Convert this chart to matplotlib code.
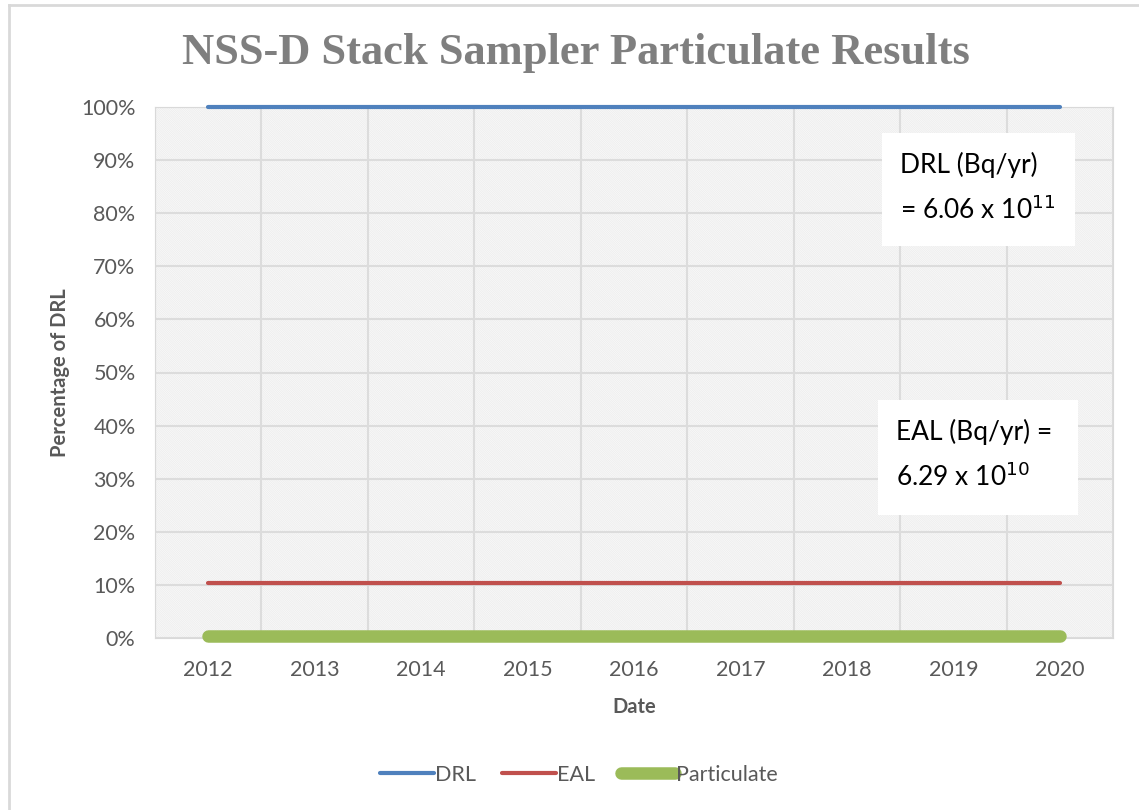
import matplotlib.pyplot as plt
import matplotlib.patches as mpatches
import matplotlib.lines as mlines
import numpy as np

years = ['2012', '2013', '2014', '2015', '2016', '2017', '2018', '2019', '2020']
drl = [100, 100, 100, 100, 100, 100, 100, 100, 100]
eal = [10.38, 10.38, 10.38, 10.38, 10.38, 10.38, 10.38, 10.38, 10.38]
particulate = [0.3, 0.3, 0.3, 0.3, 0.3, 0.3, 0.3, 0.3, 0.3]
yticks = [0, 10, 20, 30, 40, 50, 60, 70, 80, 90, 100]

plt.rcParams['font.family'] = ['Lato', 'DejaVu Sans']
plt.rcParams['hatch.linewidth'] = 0.6
grey = '#595959'

fig = plt.figure(figsize=(11.39, 8.10), dpi=100)
ax = fig.add_axes([155/1139, 1-638/810, (1113-155)/1139, (638-107)/810])

# chart border (only top and left edges visible)
fig.add_artist(mlines.Line2D([9/1139, 9/1139], [0, 1-5/810], color='#d9d9d9', lw=2,
                             transform=fig.transFigure))
fig.add_artist(mlines.Line2D([9/1139, 1], [1-5/810, 1-5/810], color='#d9d9d9', lw=2,
                             transform=fig.transFigure))

x = np.arange(len(years))
ax.set_xlim(-0.5, 8.5)
ax.set_ylim(0, 100)

# hatched plot area
ax.add_patch(mpatches.Rectangle((0, 0), 1, 1, transform=ax.transAxes, facecolor='white',
                                edgecolor='#ececec', hatch='\\' * 18, lw=0, zorder=0))

ax.set_yticks(yticks)
ax.set_yticklabels([f'{v}%' for v in yticks])
ax.set_xticks(x)
ax.set_xticklabels(years)
ax.set_xticks(np.arange(-0.5, 8.51, 0.5), minor=True)
ax.grid(axis='y', color='#dcdcdc', lw=1.5)
ax.grid(axis='x', which='minor', color='#dcdcdc', lw=1.5)
ax.tick_params(length=0, which='both', labelsize=15.5, colors=grey)
ax.tick_params(axis='y', pad=14)
ax.tick_params(axis='x', pad=16)
for s in ax.spines.values():
    s.set_color('#d9d9d9')

ax.plot(x, drl, color='#4F81BD', lw=3, solid_capstyle='round', label='DRL', zorder=3,
        clip_on=False)
ax.plot(x, eal, color='#C0504D', lw=3, solid_capstyle='round', label='EAL', zorder=3,
        clip_on=False)
ax.plot(x, particulate, color='#9BBB59', lw=9, solid_capstyle='round', label='Particulate',
        zorder=4, clip_on=False)

ax.set_ylabel('Percentage of DRL', fontsize=14.5, fontweight='bold', color=grey, labelpad=8)
ax.set_xlabel('Date', fontsize=14.5, fontweight='bold', color=grey, labelpad=12)

fig.text(576/1139, 1-53/810, 'NSS-D Stack Sampler Particulate Results', ha='center', va='center',
         fontsize=32, fontweight='bold', color='#7f7f7f', family='Liberation Serif')

# annotation boxes
for (x0, y0, x1, y1), l1, l2 in [((882, 133, 1075, 246), 'DRL (Bq/yr)', r'= 6.06 x 10$^{11}$'),
                                  ((878, 400, 1078, 515), 'EAL (Bq/yr) =', r'6.29 x 10$^{10}$')]:
    fig.patches.append(mpatches.Rectangle((x0/1139, 1-y1/810), (x1-x0)/1139, (y1-y0)/810,
                                          transform=fig.transFigure, facecolor='white',
                                          edgecolor='none', zorder=5))
    fig.text((x0+18)/1139, 1-(y0+32)/810, l1, fontsize=19, color='black', va='center', zorder=6)
    fig.text((x0+18)/1139, 1-(y0+77)/810, l2, fontsize=19, color='black', va='center', zorder=6,
             math_fontfamily='dejavusans')

leg = fig.legend(loc='center', bbox_to_anchor=(579/1139, 1-775/810), ncol=3, frameon=False,
                 fontsize=15.5, handlelength=2.5, handletextpad=0.05, columnspacing=1.2)
for t in leg.get_texts():
    t.set_color(grey)

fig.savefig('out.png', dpi=100)
